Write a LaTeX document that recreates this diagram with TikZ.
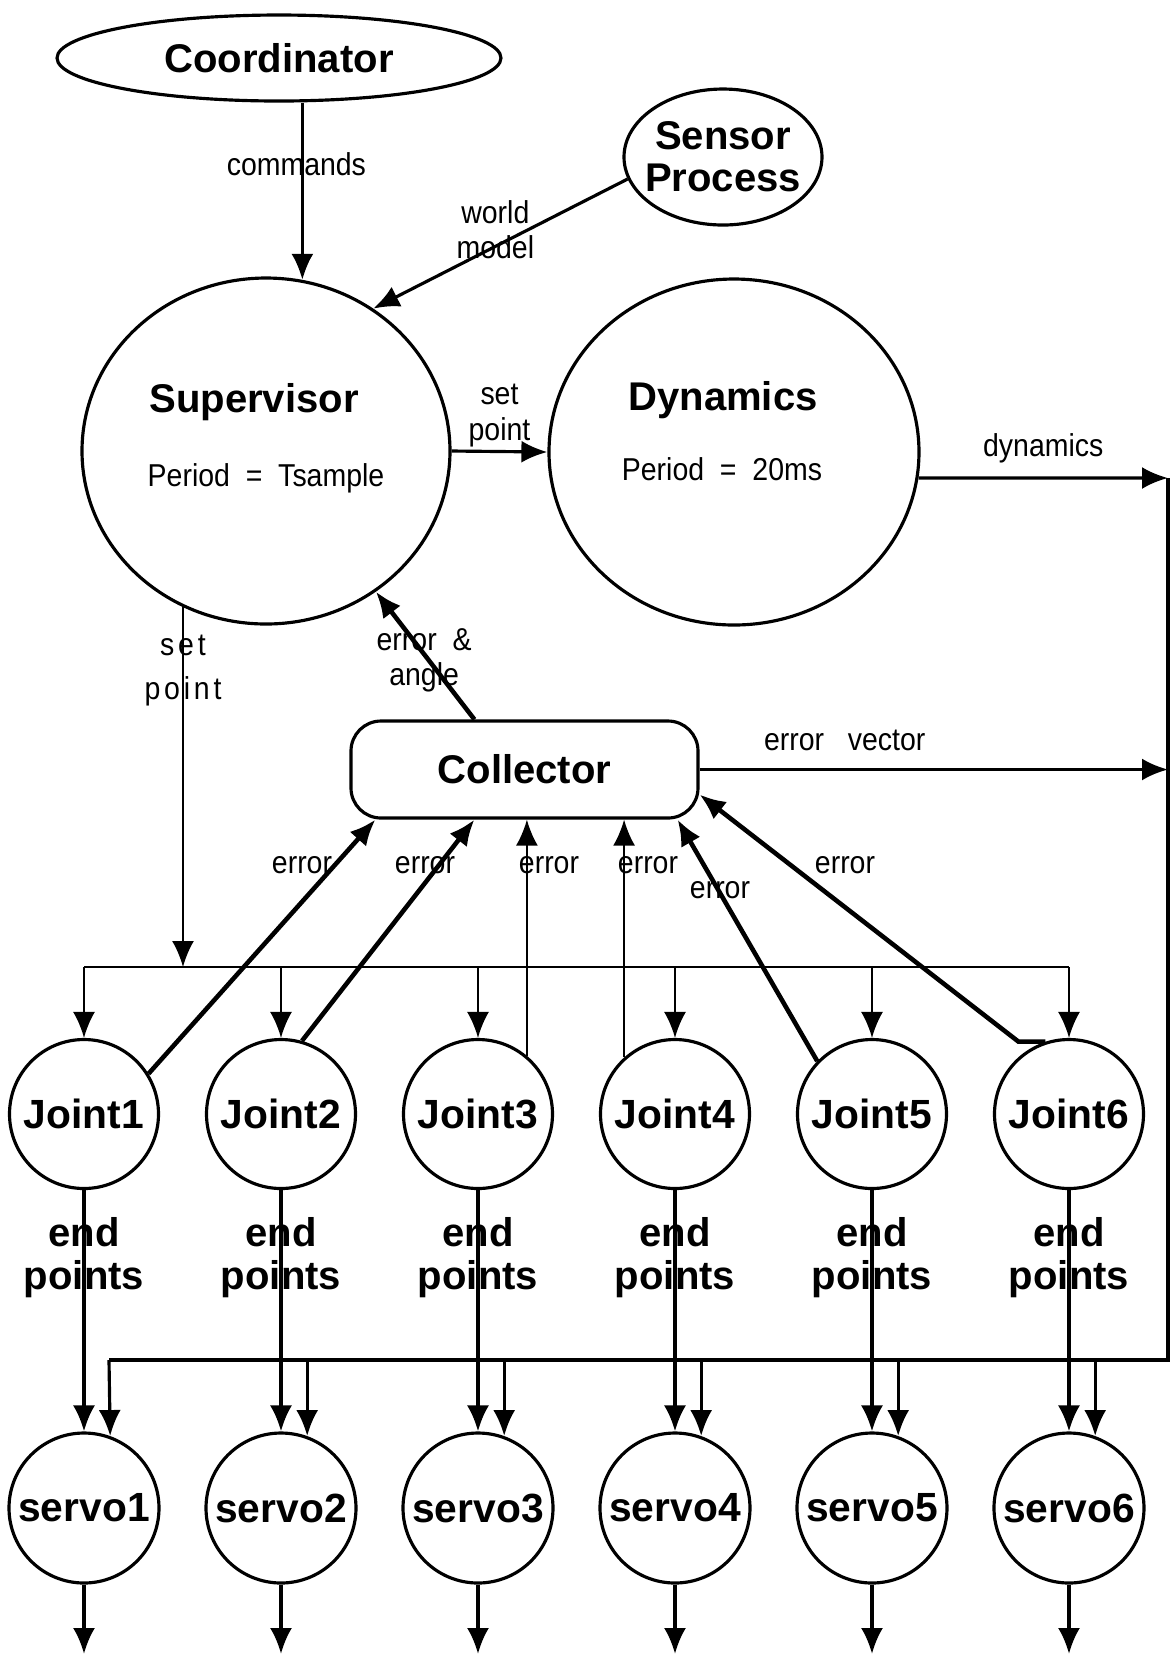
\documentclass[tikz,border=0pt]{standalone}
\usepackage{fontspec}
\setmainfont{Liberation Sans}
\newfontfamily\lblfont[FakeStretch=0.9]{Liberation Sans}
\newfontfamily\spacedfont[FakeStretch=0.9,LetterSpace=12]{Liberation Sans}
\usetikzlibrary{arrows.meta,shapes.geometric}

\begin{document}
\begin{tikzpicture}[x=0.1mm,y=-0.1mm,>={Latex[length=2.6mm,width=2.2mm]}]
 % one unit = one pixel of the sheet, y runs downwards
\tikzset{proc/.style={draw, ellipse, line width=0.9pt, inner sep=0pt, align=center, font=\fontsize{11.4}{12}\selectfont\bfseries}}
\tikzset{unit/.style={draw, circle, line width=0.9pt, inner sep=0pt, font=\fontsize{11.6}{12}\selectfont\bfseries}}
\tikzset{txt/.style={inner sep=0pt, align=center, font=\fontsize{11.4}{12}\selectfont\bfseries}}
\tikzset{lbl/.style={inner sep=0pt, align=center, font=\lblfont\fontsize{9}{10}\selectfont}}
\tikzset{wire/.style={line width=0.65pt}, conn/.style={line width=0.9pt}, errline/.style={line width=1.3pt}}
\useasboundingbox (0,0) rectangle (1171,1654);

\node[proc, minimum width=44.4mm, minimum height=8.6mm] (coord) at (279,58) {Coordinator};
\node[proc, minimum width=19.8mm, minimum height=13.6mm] (sensor) at (723,157) {};
\node[txt] (sensorT) at (sensor) {Sensor\\Process};
\node[proc, minimum width=36.8mm, minimum height=34.6mm] (super) at (266,451) {};
\node[proc, minimum width=37mm, minimum height=34.6mm] (dyn) at (734,452) {};
\node[txt] (superT) at (254,402) {Supervisor};
\node[lbl] (superP) at (266,478) {Period\ \ =\ \ Tsample};
\node[txt] (dynT) at (723,400) {Dynamics};
\node[lbl] (dynP) at (722,469) {Period\ \ =\ \ 20ms};
\node[txt, draw, line width=0.9pt, rounded corners=3mm, minimum width=34.7mm, minimum height=9.7mm] (coll) at (524.5,769.5) {Collector};

\node[unit, minimum size=14.9mm] (joint1) at (84,1114) {Joint1};
\node[unit, minimum size=14.9mm] (joint2) at (281,1114) {Joint2};
\node[unit, minimum size=14.9mm] (joint3) at (478,1114) {Joint3};
\node[unit, minimum size=14.9mm] (joint4) at (675,1114) {Joint4};
\node[unit, minimum size=14.9mm] (joint5) at (872,1114) {Joint5};
\node[unit, minimum size=14.9mm] (joint6) at (1069,1114) {Joint6};

\node[unit, minimum size=15mm] (servo1) at (84,1508) {servo1};
\node[unit, minimum size=15mm] (servo2) at (281,1508) {servo2};
\node[unit, minimum size=15mm] (servo3) at (478,1508) {servo3};
\node[unit, minimum size=15mm] (servo4) at (675,1508) {servo4};
\node[unit, minimum size=15mm] (servo5) at (872,1508) {servo5};
\node[unit, minimum size=15mm] (servo6) at (1069,1508) {servo6};

\coordinate (jbusL) at (84,967);
\coordinate (jbusR) at (1069,967);
\coordinate (rtop) at (1168,478);
\coordinate (rbot) at (1168,1360);
\coordinate (sbusL) at (109,1360);
\coordinate (out1) at (84,1654);
\coordinate (out2) at (281,1654);
\coordinate (out3) at (478,1654);
\coordinate (out4) at (675,1654);
\coordinate (out5) at (872,1654);
\coordinate (out6) at (1069,1654);

% top part
\draw[->, conn] (coord.south -| super.78) -- (super.78) node[lbl, pos=0.35, xshift=-0.6mm] {commands};
\draw[->, conn] (sensor.193) -- (super.53) node[lbl, pos=0.52, yshift=1.7mm] {world\\model};
\draw[->, conn] (super.east) -- (dyn.west) node[lbl, midway, yshift=3.6mm] {set\\point};
\draw[->, conn] (dyn.352) -- (rtop) node[lbl, midway, yshift=3mm] {dynamics};
\draw[->, errline] ([xshift=12.5mm]coll.north west) -- (super.308) node[lbl, pos=0.46, xshift=-0.5mm] {error\ \ \&\\angle};
\draw[->, conn] (coll.east) -- (coll.east -| rtop) node[lbl, pos=0.31, yshift=2.9mm] {error\ \ \ vector};

% set point down to the joints
\draw[->, wire] (super.242) -- (super.242 |- jbusL) node[pos=0.175, inner sep=0pt, align=center, font=\spacedfont\fontsize{9}{12.5}\selectfont] {set\\point};
\draw[wire] (jbusL) -- (jbusR);
\draw[->, wire] (jbusL) -- (joint1.north);
\draw[->, wire] (joint2 |- jbusL) -- (joint2.north);
\draw[->, wire] (joint3 |- jbusL) -- (joint3.north);
\draw[->, wire] (joint4 |- jbusL) -- (joint4.north);
\draw[->, wire] (joint5 |- jbusL) -- (joint5.north);
\draw[->, wire] (jbusR) -- (joint6.north);

% errors back to the collector
\draw[->, errline] (joint1.32) -- ([xshift=2.6mm]coll.south west);
\draw[->, errline] (joint2.74) -- ([xshift=12.5mm]coll.south west);
\draw[->, wire] (joint3.50) -- (joint3.50 |- coll.south);
\draw[->, wire] (joint4.132) -- (joint4.132 |- coll.south);
\draw[->, errline] (joint5.136) -- ([xshift=-2.2mm]coll.south east);
\draw[->, errline] (joint6.108) -- ++(-27,0) -- ([yshift=-2.5mm]coll.east);
\node[lbl] (err1) at (302,865) {error};
\node[lbl] (err2) at (425,865) {error};
\node[lbl] (err3) at (549,865) {error};
\node[lbl] (err4) at (648,865) {error};
\node[lbl] (err5) at (720,890) {error};
\node[lbl] (err6) at (845,865) {error};

% end points
\draw[->, conn] (joint1.south) -- (servo1.north) node[txt, pos=0.28] {end\\points};
\draw[->, conn] (joint2.south) -- (servo2.north) node[txt, pos=0.28] {end\\points};
\draw[->, conn] (joint3.south) -- (servo3.north) node[txt, pos=0.28] {end\\points};
\draw[->, conn] (joint4.south) -- (servo4.north) node[txt, pos=0.28] {end\\points};
\draw[->, conn] (joint5.south) -- (servo5.north) node[txt, pos=0.28] {end\\points};
\draw[->, conn] (joint6.south) -- (servo6.north) node[txt, pos=0.28] {end\\points};

% dynamics down to the servos
\draw[conn] (rtop) -- (rbot) -- (sbusL);
\draw[->, conn] (sbusL) -- (servo1.70);
\draw[->, conn] (servo2.70 |- rbot) -- (servo2.70);
\draw[->, conn] (servo3.70 |- rbot) -- (servo3.70);
\draw[->, conn] (servo4.70 |- rbot) -- (servo4.70);
\draw[->, conn] (servo5.70 |- rbot) -- (servo5.70);
\draw[->, conn] (servo6.70 |- rbot) -- (servo6.70);

\draw[->, conn] (servo1.south) -- (out1);
\draw[->, conn] (servo2.south) -- (out2);
\draw[->, conn] (servo3.south) -- (out3);
\draw[->, conn] (servo4.south) -- (out4);
\draw[->, conn] (servo5.south) -- (out5);
\draw[->, conn] (servo6.south) -- (out6);
\end{tikzpicture}
\end{document}
